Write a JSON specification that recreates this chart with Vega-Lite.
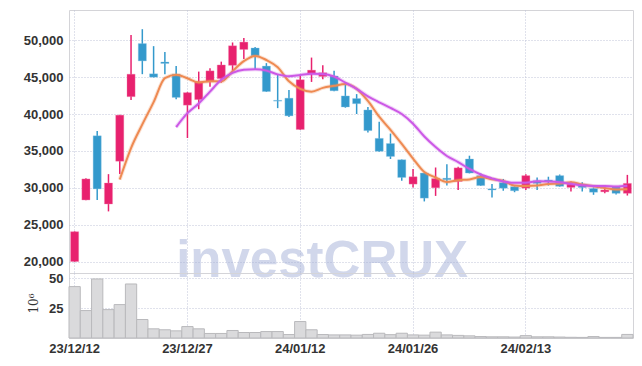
{
  "$schema": "https://vega.github.io/schema/vega-lite/v6.json",
  "padding": {"left": 6, "top": 9, "right": 10, "bottom": 5},
  "spacing": 0,
  "bounds": "flush",
  "background": "white",
  "config": {
    "view": {"stroke": "#d4d4d8"},
    "axis": {
      "labelFont": "Liberation Sans",
      "labelFontWeight": "bold",
      "labelFontSize": 13,
      "labelColor": "#333333",
      "gridColor": "#c0c4d8",
      "gridDash": [1, 2],
      "gridWidth": 1,
      "ticks": false,
      "domain": false
    }
  },
  "data": {"values": [
    {"d": "23/12/12", "o": 20000, "h": 24100, "l": 19950, "c": 24050, "v": 43.1, "m5": null, "m10": null},
    {"d": "23/12/13", "o": 28350, "h": 31300, "l": 28300, "c": 31200, "v": 23.0, "m5": null, "m10": null},
    {"d": "23/12/14", "o": 37050, "h": 37700, "l": 28350, "c": 29850, "v": 49.5, "m5": null, "m10": null},
    {"d": "23/12/15", "o": 27800, "h": 31850, "l": 26800, "c": 30650, "v": 23.8, "m5": null, "m10": null},
    {"d": "23/12/18", "o": 33600, "h": 39900, "l": 31870, "c": 39850, "v": 28.0, "m5": 31120, "m10": null},
    {"d": "23/12/19", "o": 42350, "h": 50700, "l": 41900, "c": 45400, "v": 45.3, "m5": 35390, "m10": null},
    {"d": "23/12/20", "o": 49550, "h": 51500, "l": 45400, "c": 47200, "v": 15.5, "m5": 38590, "m10": null},
    {"d": "23/12/21", "o": 45450, "h": 49200, "l": 44950, "c": 45000, "v": 7.7, "m5": 41620, "m10": null},
    {"d": "23/12/22", "o": 47050, "h": 48400, "l": 45400, "c": 46850, "v": 6.9, "m5": 44860, "m10": null},
    {"d": "23/12/26", "o": 45400, "h": 46500, "l": 42000, "c": 42250, "v": 6.0, "m5": 45340, "m10": 38230},
    {"d": "23/12/27", "o": 41200, "h": 43000, "l": 36750, "c": 42900, "v": 9.6, "m5": 44840, "m10": 40115},
    {"d": "23/12/28", "o": 41950, "h": 45750, "l": 40650, "c": 44400, "v": 7.7, "m5": 44280, "m10": 41435},
    {"d": "24/01/02", "o": 44350, "h": 46200, "l": 43700, "c": 45850, "v": 3.8, "m5": 44450, "m10": 43035},
    {"d": "24/01/03", "o": 44800, "h": 47100, "l": 44250, "c": 46650, "v": 3.8, "m5": 44410, "m10": 44635},
    {"d": "24/01/04", "o": 46600, "h": 49700, "l": 45850, "c": 49250, "v": 6.3, "m5": 45810, "m10": 45575},
    {"d": "24/01/05", "o": 48750, "h": 50300, "l": 47450, "c": 49750, "v": 4.6, "m5": 47180, "m10": 46010},
    {"d": "24/01/08", "o": 48950, "h": 49100, "l": 46000, "c": 47900, "v": 4.6, "m5": 47880, "m10": 46080},
    {"d": "24/01/09", "o": 46500, "h": 46900, "l": 43000, "c": 43050, "v": 5.4, "m5": 47320, "m10": 45885},
    {"d": "24/01/10", "o": 41850, "h": 45300, "l": 40800, "c": 41750, "v": 5.4, "m5": 46340, "m10": 45375},
    {"d": "24/01/11", "o": 42150, "h": 43250, "l": 39600, "c": 39750, "v": 2.9, "m5": 44440, "m10": 45125},
    {"d": "24/01/12", "o": 37900, "h": 45300, "l": 37850, "c": 44650, "v": 13.8, "m5": 43420, "m10": 45300},
    {"d": "24/01/15", "o": 45500, "h": 47650, "l": 44350, "c": 45950, "v": 6.9, "m5": 43030, "m10": 45455},
    {"d": "24/01/16", "o": 45100, "h": 46600, "l": 44700, "c": 45600, "v": 2.9, "m5": 43540, "m10": 45430},
    {"d": "24/01/17", "o": 45150, "h": 45850, "l": 43100, "c": 43150, "v": 2.6, "m5": 43820, "m10": 45080},
    {"d": "24/01/18", "o": 42450, "h": 44250, "l": 40850, "c": 40950, "v": 2.6, "m5": 44060, "m10": 44250},
    {"d": "24/01/19", "o": 42100, "h": 42700, "l": 40000, "c": 41400, "v": 2.4, "m5": 43410, "m10": 43415},
    {"d": "24/01/22", "o": 40550, "h": 40950, "l": 37500, "c": 37750, "v": 3.0, "m5": 41770, "m10": 42400},
    {"d": "24/01/23", "o": 36700, "h": 38950, "l": 34900, "c": 34950, "v": 4.0, "m5": 39640, "m10": 41590},
    {"d": "24/01/24", "o": 36000, "h": 37350, "l": 33900, "c": 34250, "v": 2.8, "m5": 37860, "m10": 40840},
    {"d": "24/01/25", "o": 33800, "h": 33850, "l": 30950, "c": 31400, "v": 4.0, "m5": 35950, "m10": 40005},
    {"d": "24/01/26", "o": 30500, "h": 32550, "l": 30050, "c": 31500, "v": 2.6, "m5": 33970, "m10": 38690},
    {"d": "24/01/29", "o": 32000, "h": 32050, "l": 28150, "c": 28600, "v": 2.4, "m5": 32140, "m10": 36955},
    {"d": "24/01/30", "o": 30000, "h": 32750, "l": 28900, "c": 31250, "v": 4.9, "m5": 31400, "m10": 35520},
    {"d": "24/01/31", "o": 31300, "h": 33200, "l": 30300, "c": 31100, "v": 2.6, "m5": 30770, "m10": 34315},
    {"d": "24/02/01", "o": 30850, "h": 32850, "l": 29700, "c": 32700, "v": 2.2, "m5": 31030, "m10": 33490},
    {"d": "24/02/02", "o": 33900, "h": 34350, "l": 31950, "c": 32000, "v": 1.8, "m5": 31130, "m10": 32550},
    {"d": "24/02/05", "o": 31650, "h": 31950, "l": 30250, "c": 30300, "v": 1.2, "m5": 31470, "m10": 31805},
    {"d": "24/02/06", "o": 29850, "h": 30500, "l": 28700, "c": 29700, "v": 1.0, "m5": 31160, "m10": 31280},
    {"d": "24/02/07", "o": 30700, "h": 31200, "l": 29600, "c": 29950, "v": 1.0, "m5": 30930, "m10": 30850},
    {"d": "24/02/08", "o": 30150, "h": 30200, "l": 29400, "c": 29600, "v": 0.8, "m5": 30310, "m10": 30670},
    {"d": "24/02/13", "o": 29950, "h": 31850, "l": 29700, "c": 31650, "v": 2.0, "m5": 30240, "m10": 30685},
    {"d": "24/02/14", "o": 30950, "h": 31400, "l": 29700, "c": 30600, "v": 1.0, "m5": 30300, "m10": 30885},
    {"d": "24/02/15", "o": 31050, "h": 31500, "l": 30300, "c": 30850, "v": 1.0, "m5": 30530, "m10": 30845},
    {"d": "24/02/16", "o": 31650, "h": 31800, "l": 30150, "c": 30200, "v": 0.8, "m5": 30580, "m10": 30755},
    {"d": "24/02/19", "o": 30050, "h": 30850, "l": 29500, "c": 30500, "v": 0.6, "m5": 30760, "m10": 30535},
    {"d": "24/02/20", "o": 30500, "h": 30750, "l": 29500, "c": 30050, "v": 0.5, "m5": 30440, "m10": 30340},
    {"d": "24/02/21", "o": 29900, "h": 30050, "l": 29050, "c": 29400, "v": 1.2, "m5": 30200, "m10": 30250},
    {"d": "24/02/22", "o": 29450, "h": 30050, "l": 29250, "c": 29700, "v": 0.5, "m5": 29970, "m10": 30250},
    {"d": "24/02/23", "o": 30150, "h": 30200, "l": 29100, "c": 29250, "v": 0.5, "m5": 29780, "m10": 30180},
    {"d": "24/02/26", "o": 29250, "h": 31750, "l": 28950, "c": 30600, "v": 3.0, "m5": 29800, "m10": 30280}
  ]},
  "vconcat": [
    {
      "width": 564,
      "height": 263,
      "encoding": {
        "x": {
          "field": "d", "type": "ordinal", "sort": null,
          "scale": {"type": "band", "paddingInner": 0, "paddingOuter": 0},
          "axis": {"title": null, "labels": false, "grid": true, "bandPosition": 0.5,
                   "values": ["23/12/12", "23/12/27", "24/01/12", "24/01/26", "24/02/13"]}
        }
      },
      "layer": [
        {
          "mark": {"type": "rule", "strokeWidth": 1.5},
          "encoding": {
            "y": {"field": "l", "type": "quantitative",
                  "scale": {"domain": [18450, 54100], "nice": false, "zero": false},
                  "axis": {"title": null, "values": [20000, 25000, 30000, 35000, 40000, 45000, 50000],
                           "format": ",d", "labelPadding": 6, "minExtent": 62, "maxExtent": 62, "grid": true}},
            "y2": {"field": "h"},
            "color": {"condition": {"test": "datum.c >= datum.o", "value": "#e8216e"}, "value": "#3399cc"}
          }
        },
        {
          "mark": {"type": "bar", "width": {"band": 0.72}, "strokeWidth": 1, "strokeOpacity": 0.35},
          "encoding": {
            "y": {"field": "o", "type": "quantitative"},
            "y2": {"field": "c"},
            "color": {"condition": {"test": "datum.c >= datum.o", "value": "#e8216e"}, "value": "#3399cc"},
            "stroke": {"condition": {"test": "datum.c >= datum.o", "value": "#f08ab3"}, "value": "#8cc6e6"}
          }
        },
        {
          "mark": {"type": "line", "color": "#ee8a52", "strokeWidth": 4, "opacity": 0.25, "interpolate": "monotone"},
          "encoding": {"y": {"field": "m5", "type": "quantitative"}}
        },
        {
          "mark": {"type": "line", "color": "#ee8a52", "strokeWidth": 2, "interpolate": "monotone"},
          "encoding": {"y": {"field": "m5", "type": "quantitative"}}
        },
        {
          "mark": {"type": "line", "color": "#cc58e6", "strokeWidth": 4, "opacity": 0.25, "interpolate": "monotone"},
          "encoding": {"y": {"field": "m10", "type": "quantitative"}}
        },
        {
          "mark": {"type": "line", "color": "#cc58e6", "strokeWidth": 2, "interpolate": "monotone"},
          "encoding": {"y": {"field": "m10", "type": "quantitative"}}
        },
        {
          "data": {"values": [{"t": "investCRUX"}]},
          "mark": {"type": "text", "text": "investCRUX", "align": "left", "baseline": "alphabetic",
                   "font": "Liberation Sans", "fontWeight": "bold", "fontSize": 51,
                   "color": "#a4b0d8", "opacity": 0.5},
          "encoding": {
            "x": {"datum": "23/12/26"},
            "y": {"datum": 17950, "type": "quantitative"}
          }
        }
      ]
    },
    {
      "width": 564,
      "height": 65,
      "mark": {"type": "bar", "fill": "#dadadc", "stroke": "#b9b9bc", "strokeWidth": 1},
      "encoding": {
        "x": {
          "field": "d", "type": "ordinal", "sort": null,
          "scale": {"type": "band", "paddingInner": 0, "paddingOuter": 0},
          "axis": {"title": null, "labelAngle": 0, "labelPadding": 4, "grid": true, "bandPosition": 0.5,
                   "values": ["23/12/12", "23/12/27", "24/01/12", "24/01/26", "24/02/13"]}
        },
        "y": {
          "field": "v", "type": "quantitative",
          "scale": {"domain": [0, 54.5], "nice": false},
          "axis": {"title": "10⁶", "values": [25, 50], "labelPadding": 6, "minExtent": 62, "maxExtent": 62,
                   "grid": true, "titleFont": "DejaVu Serif", "titleFontWeight": "normal", "titleFontSize": 12,
                   "titleColor": "#333333", "titleAngle": -90, "titleX": -36, "titleY": 30,
                   "titleAlign": "center", "titleBaseline": "middle"}
        }
      }
    }
  ]
}
